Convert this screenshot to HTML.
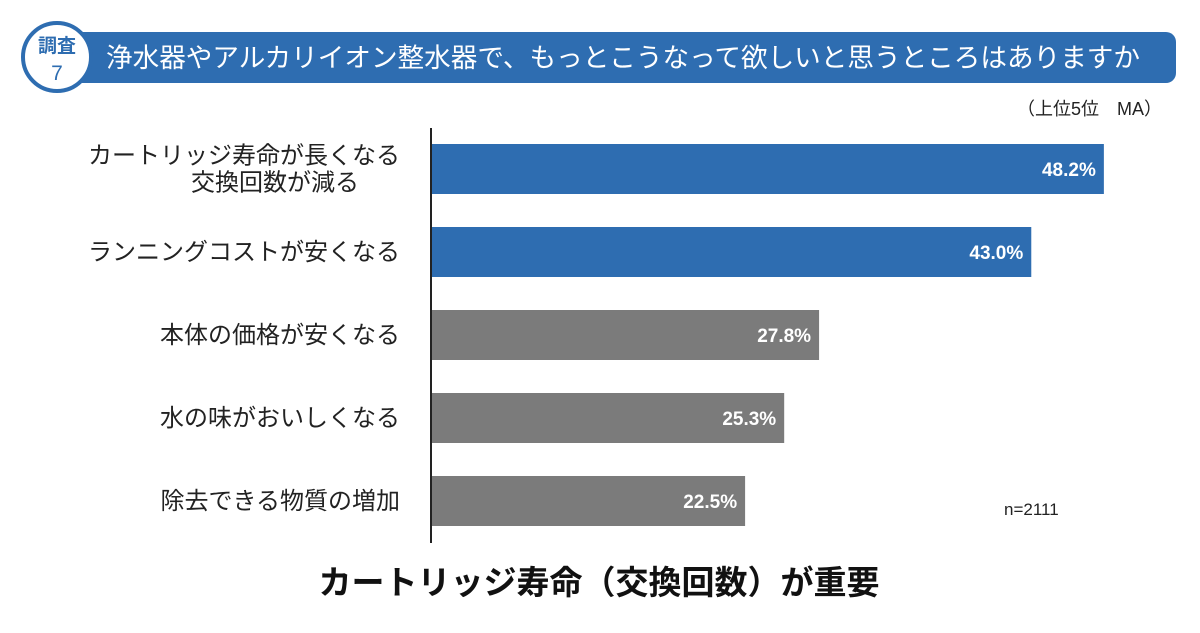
<!DOCTYPE html>
<html><head><meta charset="utf-8"><style>
body{margin:0;width:1200px;height:628px;background:#fff;overflow:hidden;font-family:"Liberation Sans","Noto Sans CJK JP",sans-serif;}
</style></head><body>
<svg width="1200" height="628" xmlns="http://www.w3.org/2000/svg" font-family="Liberation Sans, Noto Sans CJK JP, sans-serif">
<rect x="70" y="32" width="1106" height="51" rx="10" fill="#2e6db1"/>
<circle cx="57" cy="57" r="34" fill="#fff" stroke="#2e6db1" stroke-width="4"/>
<text x="57" y="52" text-anchor="middle" font-size="19" font-weight="bold" fill="#2e6db1">調査</text>
<text x="57" y="80" text-anchor="middle" font-size="21" fill="#2e6db1">7</text>
<text x="106" y="67" font-size="26.5" fill="#fff" textLength="1034" lengthAdjust="spacingAndGlyphs">浄水器やアルカリイオン整水器で、もっとこうなって欲しいと思うところはありますか</text>
<text x="1162" y="115" text-anchor="end" font-size="18" fill="#222">（上位5位　MA）</text>
<g id="chart"></g>
<text x="1004" y="515" font-size="17" fill="#222">n=2111</text>
<text x="599" y="594" text-anchor="middle" font-size="33" font-weight="bold" fill="#111">カートリッジ寿命（交換回数）が重要</text>
</svg>
<script>
const categories=[["カートリッジ寿命が長くなる","交換回数が減る"],["ランニングコストが安くなる"],["本体の価格が安くなる"],["水の味がおいしくなる"],["除去できる物質の増加"]];
const values=[48.2,43.0,27.8,25.3,22.5];
const labels=["48.2%","43.0%","27.8%","25.3%","22.5%"];
const highlight=[true,true,false,false,false];
const NS="http://www.w3.org/2000/svg";
const g=document.getElementById("chart");
const x0=431, pxPer=13.96, top0=144, step=83, bh=50;
const xs=v=>x0+v*pxPer;
function mk(t,a){const e=document.createElementNS(NS,t);for(const k in a)e.setAttribute(k,a[k]);g.appendChild(e);return e;}
values.forEach((v,i)=>{
  const y=top0+i*step;
  const r=mk("rect",{x:x0,y:y,width:xs(v)-x0,height:bh,fill:highlight[i]?"#2e6db1":"#7b7b7b"});
  
  
  const t=mk("text",{x:xs(v)-8,y:y+bh/2+7,"text-anchor":"end","font-size":"19","font-weight":"bold",fill:"#fff"});
  t.textContent=labels[i];
  
  
  const lines=categories[i];
  lines.forEach((ln,j)=>{
    const second=lines.length>1&&j==1;
    const c=mk("text",{x:second?275:400,y:y+bh/2+8+(j-(lines.length-1)/2)*27,"text-anchor":second?"middle":"end","font-size":"24",fill:"#222"});
    c.textContent=ln;
    
    
  });
});
const ax=mk("line",{x1:x0,y1:128,x2:x0,y2:543,stroke:"#222","stroke-width":2});


</script>
</body></html>
